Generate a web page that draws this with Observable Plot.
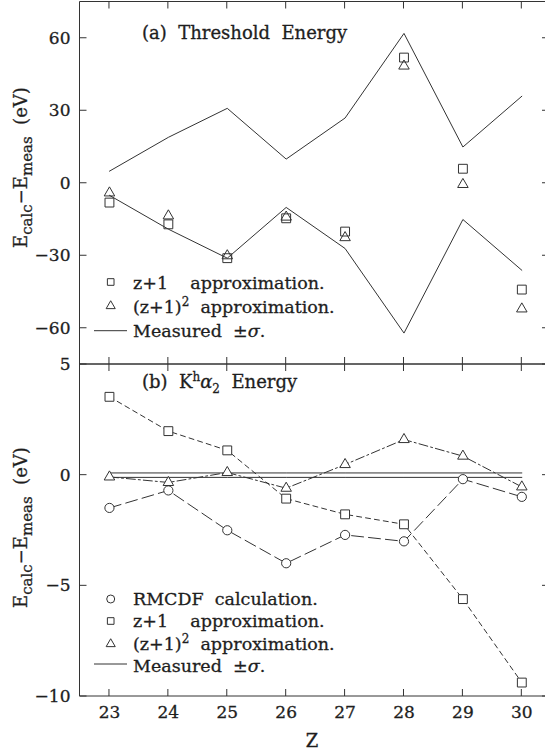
<!DOCTYPE html>
<html>
<head>
<meta charset="utf-8">
<script src="https://cdn.jsdelivr.net/npm/d3@7"></script>
<script src="https://cdn.jsdelivr.net/npm/@observablehq/plot@0.6"></script>
<style>
  html, body { margin: 0; padding: 0; background: #fff; overflow: hidden; }
  #chart { position: relative; width: 545px; height: 753px; overflow: hidden; font-family: "DejaVu Serif", serif; }
  #chart svg { position: absolute; left: 0; overflow: visible; max-width: none !important; }
  #chart text { white-space: pre; stroke: #1e1e1e; stroke-width: 0.3px; }
</style>
</head>
<body>
<div id="chart"></div>
<script>
// Atomic number of the target element
const Z = [23, 24, 25, 26, 27, 28, 29, 30];

// (a) Threshold energy: E_calc - E_meas (eV)
const thrSigma = [5, 19, 31, 10, 27, 62, 15, 36];
const thrZ1 = [-8, -17, -31, -14.5, -20, 52, 6, -44];
const thrZ1sq = [-4, -13.5, -30, -14, -22.5, 48.5, -0.5, -52];

// (b) K^h alpha_2 energy: E_calc - E_meas (eV)
const kaSigma = [0.1, 0.1, 0.1, 0.1, 0.1, 0.1, 0.1, 0.1];
const kaRmcdf = [-1.48, -0.69, -2.49, -3.98, -2.7, -2.99, -0.18, -0.98];
const kaZ1 = [3.54, 1.99, 1.12, -1.06, -1.77, -2.22, -5.6, -9.37];
const kaZ1sq = [-0.08, -0.33, 0.12, -0.59, 0.48, 1.61, 0.86, -0.53];

// Tick values
const xTicks = Z;
const yTicksA = [-60, -30, 0, 30, 60];
const yTicksB = [-10, -5, 0, 5];

const INK = "#1e1e1e";
const LINE = "#333";
const FONT = "DejaVu Serif, serif";

const rows = (vals) => Z.map((z, i) => ({z, v: vals[i]}));
const neg = (vals) => vals.map((s) => -s);

const chart = document.getElementById("chart");

// Rich text helper: parts are {t, sup, sub, it}; baseline shifts carried between tspans
function rich(textSel, parts, small = 12) {
  let shift = 0;
  for (const p of parts) {
    const ts = textSel.append("tspan").text(p.t);
    const target = p.sup ? -7 : p.sub ? 5 : 0;
    if (target !== shift) { ts.attr("dy", target - shift); shift = target; }
    if (p.sup || p.sub) ts.attr("font-size", small);
    if (p.it) ts.attr("font-style", "italic");
  }
  return textSel;
}

function label(plot, x, y, size) {
  return d3.select(plot).append("text")
    .attr("x", x).attr("y", y).attr("text-anchor", "start")
    .attr("font-family", FONT).attr("font-size", size).attr("fill", INK);
}

// Frame lines and inward ticks, placed with the plot's own scales
function frameAndTicks(plot, yTicks) {
  const svg = d3.select(plot);
  const sx = plot.scale("x"), sy = plot.scale("y");
  const [xl, xr] = sx.range;
  const [yb, yt] = sy.range;
  const T = 7;
  let d = `M${xl},${yb}V${yt}M${xl},${yb}H${xr}M${xl},${yt}H${xr}`;
  for (const z of xTicks) {
    const px = sx.apply(z);
    d += `M${px},${yt}v${T}M${px},${yb}v${-T}`;
  }
  for (const v of yTicks) {
    const py = sy.apply(v);
    d += `M${xl},${py}h${T}M${xr},${py}h${-T}`;
  }
  svg.append("path").attr("d", d).attr("fill", "none").attr("stroke", LINE).attr("stroke-width", 1);
}

function yTitle(plot, x, yStart) {
  const t = d3.select(plot).append("text")
    .attr("transform", `translate(${x},${yStart}) rotate(-90)`)
    .attr("text-anchor", "start")
    .attr("font-family", FONT).attr("font-size", 18).attr("fill", INK);
  rich(t, [{t: "E"}, {t: "calc", sub: true}, {t: "\u2212E"}, {t: "meas", sub: true}, {t: "  (eV)"}], 15);
}

function legend(plot, items, dyOff) {
  const g = d3.select(plot).append("g");
  const sx = 110.7, tx = 133;
  for (const it of items) {
    const cy = it.cy - dyOff;
    if (it.kind === "line") {
      g.append("path").attr("d", `M94,${cy}H127`).attr("stroke", LINE).attr("stroke-width", 1);
    } else {
      const type = {circle: d3.symbolCircle, square: d3.symbolSquare, triangle: d3.symbolTriangle}[it.kind];
      g.append("path").attr("transform", `translate(${sx},${cy})`)
        .attr("d", d3.symbol(type, it.size)())
        .attr("fill", "none").attr("stroke", LINE).attr("stroke-width", 1);
    }
    rich(label(plot, tx, it.base - dyOff, 17.5), it.parts, 12);
  }
}

// ---------- (a) Threshold energy ----------
const topPlot = Plot.plot({
  width: 549, height: 364,
  marginTop: 1.5, marginBottom: 0, marginLeft: 79.5, marginRight: 0,
  style: {fontFamily: FONT, fontSize: "17px", background: "transparent", color: INK, overflow: "visible"},
  x: {domain: [22.5, 30.47], axis: null},
  y: {domain: [-75, 75], axis: null},
  marks: [
    Plot.axisY(yTicksA, {anchor: "left", tickSize: 0, tickPadding: 9.5, fontSize: 17, label: null, fill: INK}),
    Plot.line(rows(thrSigma), {x: "z", y: "v", stroke: LINE, strokeWidth: 1}),
    Plot.line(rows(neg(thrSigma)), {x: "z", y: "v", stroke: LINE, strokeWidth: 1}),
    Plot.dot(rows(thrZ1), {x: "z", y: "v", symbol: "square", r: 5, stroke: LINE, strokeWidth: 1, fill: "none"}),
    Plot.dot(rows(thrZ1sq), {x: "z", y: "v", symbol: "triangle", r: 3.9, stroke: LINE, strokeWidth: 1, fill: "none"})
  ]
});
topPlot.style.top = "0px";
chart.appendChild(topPlot);
frameAndTicks(topPlot, yTicksA);
yTitle(topPlot, 27, 248);
rich(label(topPlot, 142, 39, 18), [{t: "(a)  Threshold  Energy"}]);
legend(topPlot, [
  {kind: "square", size: 44, cy: 282, base: 289, parts: [{t: "z+1    approximation."}]},
  {kind: "triangle", size: 36, cy: 306, base: 313, parts: [{t: "(z+1)"}, {t: "2", sup: true}, {t: "  approximation."}]},
  {kind: "line", cy: 330.7, base: 337, parts: [{t: "Measured  \u00b1"}, {t: "\u03c3", it: true}, {t: "."}]}
], 0);

// ---------- (b) K^h alpha_2 energy ----------
const OFF = 350;
const botPlot = Plot.plot({
  width: 549, height: 403,
  marginTop: 14, marginBottom: 57, marginLeft: 79.5, marginRight: 0,
  style: {fontFamily: FONT, fontSize: "17px", background: "transparent", color: INK, overflow: "visible"},
  x: {domain: [22.5, 30.47], axis: null},
  y: {domain: [-10, 5], axis: null},
  marks: [
    Plot.axisY(yTicksB, {anchor: "left", tickSize: 0, tickPadding: 9.5, fontSize: 17, label: null, fill: INK}),
    Plot.axisX(xTicks, {anchor: "bottom", tickSize: 0, tickPadding: 9, fontSize: 17, label: null, fill: INK}),
    Plot.line(rows(kaSigma), {x: "z", y: "v", stroke: LINE, strokeWidth: 1}),
    Plot.line(rows(neg(kaSigma)), {x: "z", y: "v", stroke: LINE, strokeWidth: 1}),
    Plot.line(rows(kaZ1), {x: "z", y: "v", stroke: LINE, strokeWidth: 1, strokeDasharray: "5,4"}),
    Plot.line(rows(kaRmcdf), {x: "z", y: "v", stroke: LINE, strokeWidth: 1, strokeDasharray: "12,5"}),
    Plot.line(rows(kaZ1sq), {x: "z", y: "v", stroke: LINE, strokeWidth: 1, strokeDasharray: "9,3,2,3"}),
    Plot.dot(rows(kaZ1), {x: "z", y: "v", symbol: "square", r: 5, stroke: LINE, strokeWidth: 1, fill: "white"}),
    Plot.dot(rows(kaRmcdf), {x: "z", y: "v", symbol: "circle", r: 4.6, stroke: LINE, strokeWidth: 1, fill: "white"}),
    Plot.dot(rows(kaZ1sq), {x: "z", y: "v", symbol: "triangle", r: 3.9, stroke: LINE, strokeWidth: 1, fill: "white"})
  ]
});
botPlot.style.top = OFF + "px";
chart.appendChild(botPlot);
frameAndTicks(botPlot, yTicksB);
yTitle(botPlot, 27, 608 - OFF);
rich(label(botPlot, 142, 388 - OFF, 18),
  [{t: "(b)  K"}, {t: "h", sup: true}, {t: "\u03b1", it: true}, {t: "2", sub: true}, {t: "  Energy"}]);
legend(botPlot, [
  {kind: "circle", size: 50, cy: 599, base: 605, parts: [{t: "RMCDF  calculation."}]},
  {kind: "square", size: 44, cy: 621, base: 627, parts: [{t: "z+1    approximation."}]},
  {kind: "triangle", size: 36, cy: 644, base: 650, parts: [{t: "(z+1)"}, {t: "2", sup: true}, {t: "  approximation."}]},
  {kind: "line", cy: 664, base: 672, parts: [{t: "Measured  \u00b1"}, {t: "\u03c3", it: true}, {t: "."}]}
], OFF);
// x-axis title
d3.select(botPlot).append("text").attr("x", 312).attr("y", 747 - OFF)
  .attr("text-anchor", "middle").attr("font-family", FONT).attr("font-size", 18).attr("fill", INK).text("Z");
</script>
</body>
</html>
